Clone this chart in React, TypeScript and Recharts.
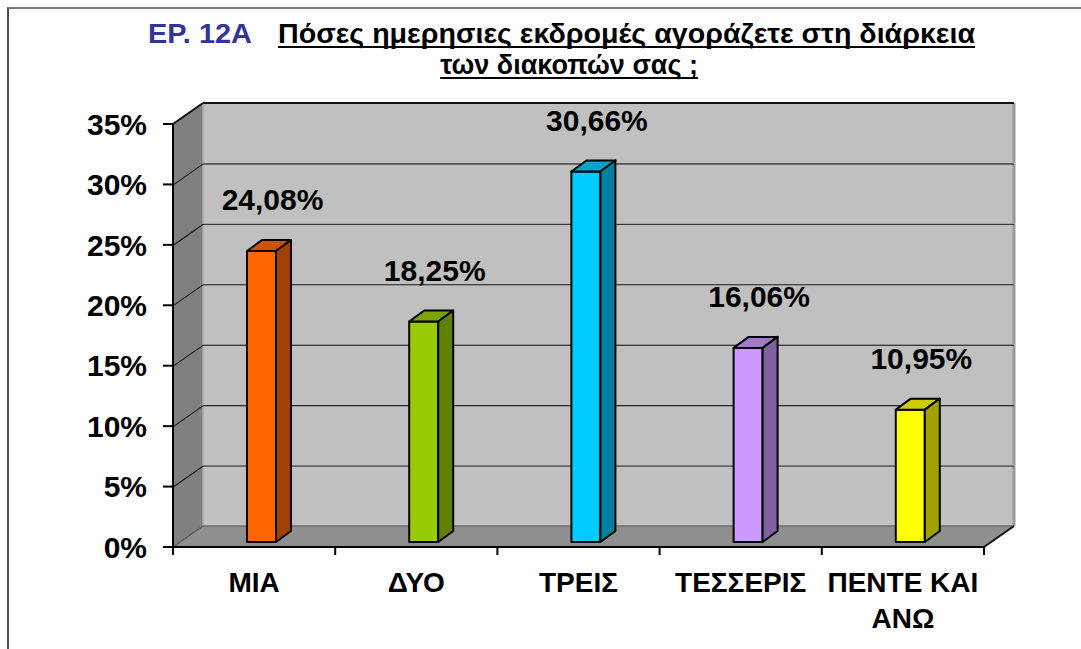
import { BarChart, Bar, XAxis, YAxis, Cell, LabelList, ReferenceArea } from 'recharts'

const categories = ['ΜΙΑ', 'ΔΥΟ', 'ΤΡΕΙΣ', 'ΤΕΣΣΕΡΙΣ', 'ΠΕΝΤΕ ΚΑΙ ΑΝΩ']
const shares = [24.08, 18.25, 30.66, 16.06, 10.95]
const barColors = ['#FF6600', '#99CC00', '#00CCFF', '#CC99FF', '#FFFF00']
const yTicks = [0, 5, 10, 15, 20, 25, 30, 35]

const data = categories.map((name, i) => ({ name, value: shares[i] }))

const FONT = '"Liberation Sans", Arial, sans-serif'
// depth of the 3d box (walls) and of the bars
const WALL_DX = 30
const WALL_DY = 21
const BAR_DX = 15
const BAR_DY = 11
const BAR_SHIFT_X = 7
const BAR_SHIFT_Y = 5

const shade = (hex: string, f: number) => {
  const n = parseInt(hex.slice(1), 16)
  const r = Math.round(((n >> 16) & 255) * f)
  const g = Math.round(((n >> 8) & 255) * f)
  const b = Math.round((n & 255) * f)
  return `rgb(${r},${g},${b})`
}

// greedy word wrap, measured with a canvas
const ctx = document.createElement('canvas').getContext('2d')
const textWidth = (text: string, font: string) => {
  if (!ctx) return text.length * 14
  ctx.font = font
  return ctx.measureText(text).width
}
const wrap = (text: string, maxWidth: number, font: string) => {
  const lines: string[] = []
  let cur = ''
  for (const w of text.split(' ')) {
    const next = cur ? cur + ' ' + w : w
    if (cur && textWidth(next, font) > maxWidth) {
      lines.push(cur)
      cur = w
    } else {
      cur = next
    }
  }
  if (cur) lines.push(cur)
  return lines
}

const WallBand = (props: any) => {
  const { x, y, width, height, isFloor } = props
  const bx = x + WALL_DX
  const by = y - WALL_DY
  return (
    <g>
      <rect x={bx} y={by} width={width} height={height} fill="#C0C0C0" />
      <polygon
        points={`${x},${y} ${bx},${by} ${bx},${by + height} ${x},${y + height}`}
        fill="#808080"
      />
      <line x1={bx} y1={by} x2={bx} y2={by + height} stroke="#A8A8A8" strokeWidth={1.5} />
      <line x1={bx + width} y1={by} x2={bx + width} y2={by + height} stroke="#999" strokeWidth={3} />
      <line x1={bx} y1={by} x2={bx + width} y2={by} stroke="#111" strokeWidth={2} />
      <line x1={x} y1={y} x2={bx} y2={by} stroke="#111" strokeWidth={2} />
      {isFloor && (
        <g>
          <polygon
            points={`${x},${y + height} ${x + width},${y + height} ${bx + width},${by + height} ${bx},${by + height}`}
            fill="#8F8F8F"
          />
          <line x1={bx} y1={by + height} x2={bx + width} y2={by + height} stroke="#6E6E6E" strokeWidth={1.5} />
          <line x1={x} y1={y + height} x2={bx} y2={by + height} stroke="#5A5A5A" strokeWidth={1.5} />
          <line x1={x + width} y1={y + height} x2={bx + width} y2={by + height} stroke="#111" strokeWidth={2} />
        </g>
      )}
    </g>
  )
}

const Bar3D = (props: any) => {
  const { x, y, width, height, fill } = props
  if (height <= 0) return null
  const fx = x + BAR_SHIFT_X
  const fy = y - BAR_SHIFT_Y
  return (
    <g stroke="#000" strokeWidth={2} strokeLinejoin="round">
      <rect x={fx} y={fy} width={width} height={height} fill={fill} />
      <polygon
        points={`${fx},${fy} ${fx + BAR_DX},${fy - BAR_DY} ${fx + width + BAR_DX},${fy - BAR_DY} ${fx + width},${fy}`}
        fill={shade(fill, 0.8)}
      />
      <polygon
        points={`${fx + width},${fy} ${fx + width + BAR_DX},${fy - BAR_DY} ${fx + width + BAR_DX},${fy + height - BAR_DY} ${fx + width},${fy + height}`}
        fill={shade(fill, 0.63)}
      />
    </g>
  )
}

const ValueLabel = (props: any) => {
  const { x, y, width, value } = props
  return (
    <text
      x={x + width / 2 + 18}
      y={y - 56}
      textAnchor="middle"
      dominantBaseline="central"
      fontFamily={FONT}
      fontWeight="bold"
      fontSize={30}
      fill="#000"
    >
      {Number(value).toFixed(2).replace('.', ',') + '%'}
    </text>
  )
}

const CategoryTick = (props: any) => {
  const { x, y, payload, index, visibleTicksCount, width } = props
  const half = width && visibleTicksCount ? width / visibleTicksCount / 2 : 81
  const lines = wrap(String(payload.value), half * 2 - 6, `bold 28px ${FONT}`)
  return (
    <g>
      <line x1={x - half} y1={y} x2={x - half} y2={y + 8} stroke="#000" strokeWidth={2} />
      {index === visibleTicksCount - 1 && (
        <line x1={x + half} y1={y} x2={x + half} y2={y + 8} stroke="#000" strokeWidth={2} />
      )}
      <text x={x} y={y + 45} textAnchor="middle" fontFamily={FONT} fontWeight="bold" fontSize={28} fill="#000">
        {lines.map((l, i) => (
          <tspan key={i} x={x} dy={i === 0 ? 0 : 36}>
            {l}
          </tspan>
        ))}
      </text>
    </g>
  )
}

const titleLead = 'ΕΡ. 12Α'
const titleLine1 = 'Πόσες ημερησιες εκδρομές αγοράζετε στη διάρκεια'
const titleLine2 = 'των διακοπών σας ;'

const Title = () => {
  const font = `bold 27px ${FONT}`
  const w2 = textWidth(titleLine2, font)
  const x2 = 698 - w2
  return (
    <svg width={1081} height={90} style={{ position: 'absolute', left: 0, top: 0 }}>
      <text x={148} y={43} fontFamily={FONT} fontWeight="bold" fontSize={27} fill="#333399" textLength={104} lengthAdjust="spacingAndGlyphs">
        {titleLead}
      </text>
      <text x={278} y={43} fontFamily={FONT} fontWeight="bold" fontSize={27} fill="#000" textLength={697} lengthAdjust="spacingAndGlyphs">
        {titleLine1}
      </text>
      <line x1={278} y1={47} x2={975} y2={47} stroke="#000" strokeWidth={2} />
      <text x={x2} y={74} fontFamily={FONT} fontWeight="bold" fontSize={27} fill="#000">
        {titleLine2}
      </text>
      <line x1={x2} y1={78} x2={698} y2={78} stroke="#000" strokeWidth={2} />
    </svg>
  )
}

export default function App() {
  return (
    <div style={{ position: 'absolute', left: 0, top: 0, width: 1081, height: 649, overflow: 'hidden', background: '#fff' }}>
      <div
        style={{
          position: 'absolute',
          left: 7,
          top: 7,
          width: 1100,
          height: 700,
          borderTop: '2px solid #7A7A7A',
          borderLeft: '2px solid #4A4A4A'
        }}
      />
      <Title />
      <div style={{ position: 'absolute', left: 0, top: 0 }}>
        <BarChart width={1081} height={649} data={data} margin={{ top: 124, right: 97, bottom: 0, left: 0 }}>
          {yTicks.slice(0, -1).map((t, i) => (
            <ReferenceArea
              key={t}
              y1={t}
              y2={yTicks[i + 1]}
              ifOverflow="visible"
              shape={(p: any) => <WallBand {...p} isFloor={t === 0} />}
            />
          ))}
          <XAxis
            dataKey="name"
            height={102}
            axisLine={{ stroke: '#000', strokeWidth: 2 }}
            tickLine={false}
            tickSize={0}
            tickMargin={0}
            interval={0}
            tick={<CategoryTick />}
          />
          <YAxis
            width={173}
            domain={[0, 35]}
            ticks={yTicks}
            tickFormatter={(v) => `${v}%`}
            axisLine={{ stroke: '#000', strokeWidth: 2 }}
            tickLine={{ stroke: '#000', strokeWidth: 2 }}
            tickSize={10}
            tickMargin={16}
            tick={{ fill: '#000', fontFamily: FONT, fontWeight: 'bold', fontSize: 30 }}
          />
          <Bar dataKey="value" barSize={29} shape={<Bar3D />} isAnimationActive={false}>
            {data.map((d, i) => (
              <Cell key={d.name} fill={barColors[i]} />
            ))}
            <LabelList dataKey="value" content={<ValueLabel />} />
          </Bar>
        </BarChart>
      </div>
    </div>
  )
}
